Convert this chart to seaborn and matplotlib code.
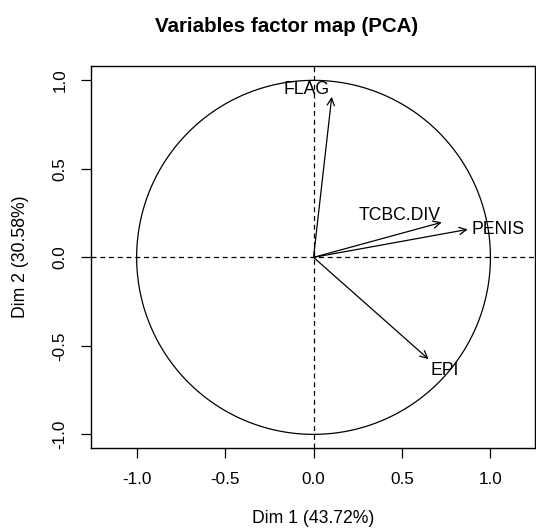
import matplotlib

matplotlib.use("Agg")
import matplotlib.pyplot as plt
import numpy as np
import seaborn as sns

# PCA variable coordinates
variables = ["FLAG", "TCBC.DIV", "PENIS", "EPI"]
dim1 = [0.103, 0.725, 0.872, 0.650]
dim2 = [0.907, 0.198, 0.158, -0.575]
dim1_pct = 43.72
dim2_pct = 30.58
ticks = [-1.0, -0.5, 0.0, 0.5, 1.0]

# label offsets from arrow tips, in points
label_offsets = {
    "FLAG": (-18, 5),
    "TCBC.DIV": (-30, 5),
    "PENIS": (22, 0),
    "EPI": (12, -8),
}

sns.set_theme(style="ticks")
plt.rcParams["font.family"] = ["Liberation Sans", "DejaVu Sans"]
plt.rcParams["text.color"] = "black"
plt.rcParams["axes.labelcolor"] = "black"

fig = plt.figure(figsize=(5.36, 5.31), dpi=100)
ax = fig.add_axes([91 / 536, 83 / 531, 444 / 536, 382 / 531])

# unit circle
theta = np.linspace(0, 2 * np.pi, 400)
sns.lineplot(x=np.cos(theta), y=np.sin(theta), sort=False, estimator=None,
             color="black", linewidth=0.9, ax=ax)

ax.axhline(0, color="black", linewidth=0.9, linestyle=(0, (4, 3)))
ax.axvline(0, color="black", linewidth=0.9, linestyle=(0, (4, 3)))

for name, x, y in zip(variables, dim1, dim2):
    ax.annotate("", xy=(x, y), xytext=(0, 0),
                arrowprops=dict(arrowstyle="->", color="black", lw=0.9,
                                shrinkA=0, shrinkB=0, mutation_scale=13))
    dx, dy = label_offsets[name]
    ax.annotate(name, xy=(x, y), xytext=(dx, dy), textcoords="offset points",
                ha="center", va="center", fontsize=12.7, color="black")

ax.set_xlim(-1.258, 1.252)
ax.set_ylim(-1.077, 1.081)
ax.set_xticks(ticks)
ax.set_yticks(ticks)
ax.set_xticklabels([f"{t:.1f}" for t in ticks], fontsize=12.3)
ax.set_yticklabels([f"{t:.1f}" for t in ticks], fontsize=12.3, rotation=90,
                   va="center")
ax.tick_params(direction="out", length=7, width=0.9, pad=10, colors="black")
for sp in ax.spines.values():
    sp.set_visible(True)
    sp.set_linewidth(1.0)
    sp.set_color("black")

ax.set_xlabel(f"Dim 1 ({dim1_pct:.2f}%)", fontsize=12.7, labelpad=17)
ax.set_ylabel(f"Dim 2 ({dim2_pct:.2f}%)", fontsize=12.7, labelpad=17)
fig.text(0.5 + 19 / 536, 1 - 27 / 531, "Variables factor map (PCA)",
         ha="center", va="center", fontsize=14.8, fontweight="bold")

fig.savefig("out.png", dpi=100, facecolor="white")
